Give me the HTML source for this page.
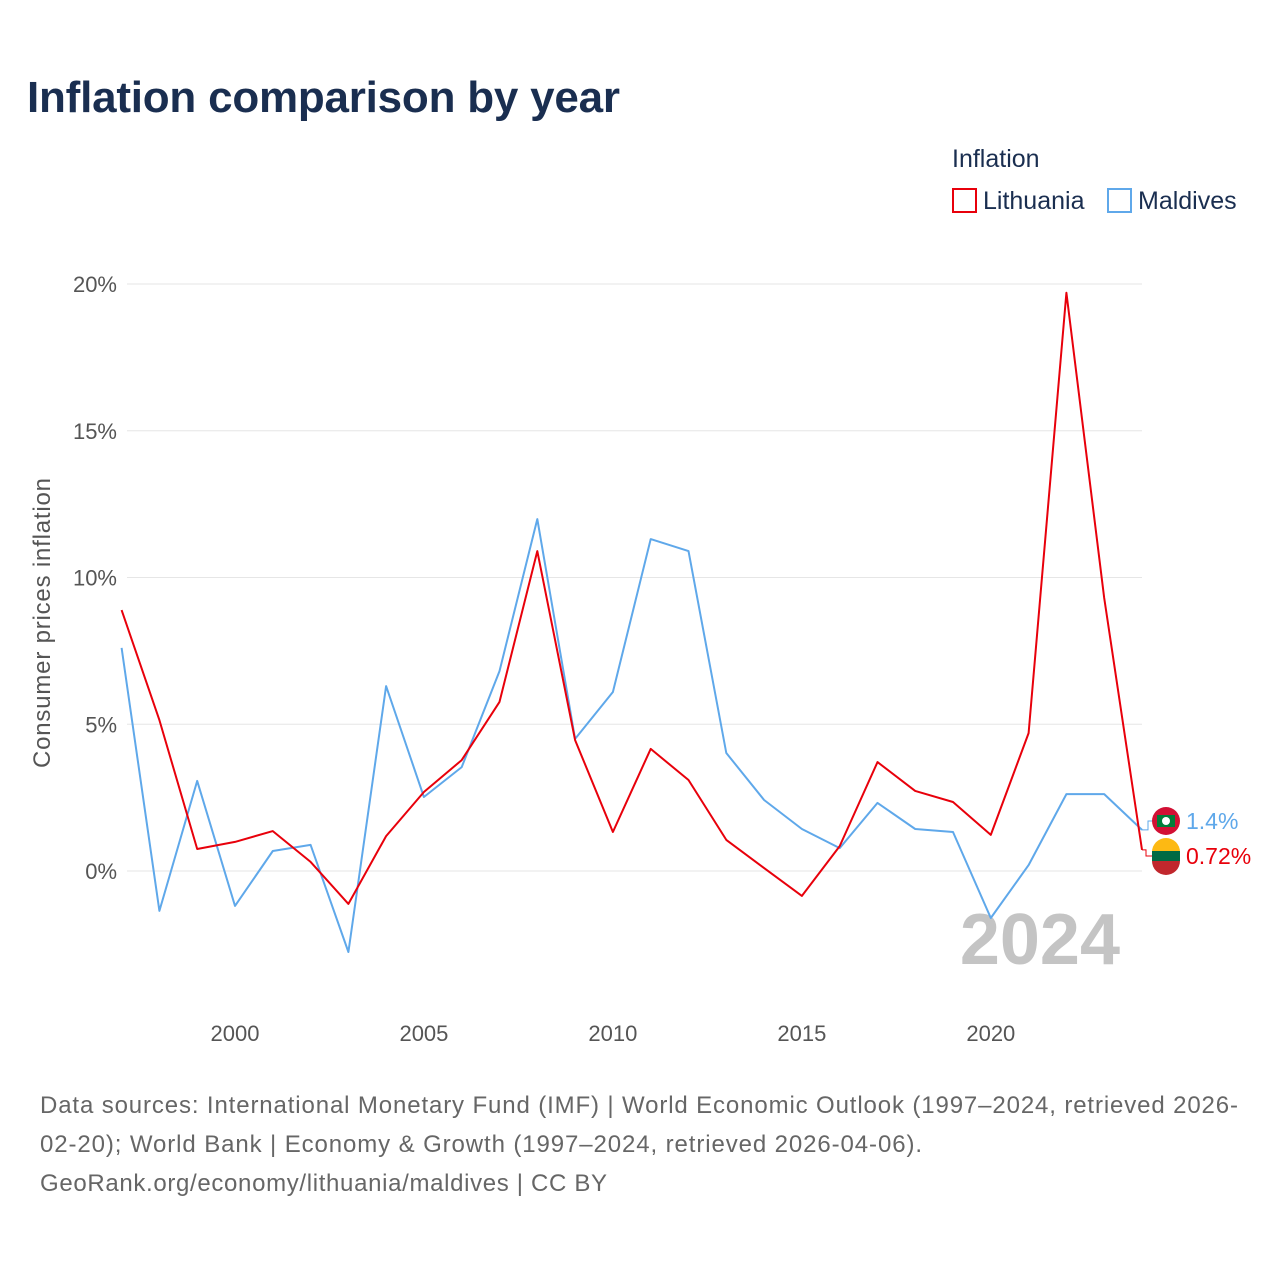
<!DOCTYPE html>
<html><head><meta charset="utf-8">
<style>
body{margin:0;background:#fff;font-family:"Liberation Sans",sans-serif;}
#wrap{position:relative;width:1280px;height:1280px;overflow:hidden;}
</style></head>
<body>
<div id="wrap">
<svg id="chart" width="1280" height="1280">
  <text x="27" y="112" font-size="44" font-weight="bold" fill="#1a2e50" textLength="593">Inflation comparison by year</text>
  <text x="952" y="167" font-size="25" fill="#1a2e50">Inflation</text>
  <g>
    <rect x="953" y="189" width="23" height="23" fill="none" stroke="#e8000b" stroke-width="2"/>
    <text x="983" y="209" font-size="25" fill="#1a2e50">Lithuania</text>
  </g>
  <g>
    <rect x="1108" y="189" width="23" height="23" fill="none" stroke="#5fa8ea" stroke-width="2"/>
    <text x="1138" y="209" font-size="25" fill="#1a2e50">Maldives</text>
  </g>
  <g id="grid"></g>
  <g id="yticks"></g>
  <g id="xticks"></g>
  <text transform="translate(50,623) rotate(-90)" text-anchor="middle" font-size="24" fill="#555" textLength="290">Consumer prices inflation</text>
  <text x="1120" y="964" text-anchor="end" font-size="72" font-weight="bold" fill="#c4c4c4">2024</text>
  <g id="series"></g>
  <text x="40" y="1113" font-size="24" fill="#666" textLength="1198">Data sources: International Monetary Fund (IMF) | World Economic Outlook (1997–2024, retrieved 2026-</text>
  <text x="40" y="1152" font-size="24" fill="#666" textLength="882">02-20); World Bank | Economy &amp; Growth (1997–2024, retrieved 2026-04-06).</text>
  <text x="40" y="1191" font-size="24" fill="#666" textLength="567">GeoRank.org/economy/lithuania/maldives | CC BY</text>
</svg>
</div>
<script>
const years = [1997,1998,1999,2000,2001,2002,2003,2004,2005,2006,2007,2008,2009,2010,2011,2012,2013,2014,2015,2016,2017,2018,2019,2020,2021,2022,2023,2024];
const lithuania = [8.89,5.14,0.75,0.99,1.36,0.31,-1.12,1.19,2.69,3.78,5.76,10.9,4.46,1.33,4.16,3.10,1.06,0.10,-0.85,0.85,3.71,2.73,2.35,1.23,4.70,19.7,9.3,0.72];
const maldives = [7.6,-1.36,3.07,-1.19,0.68,0.89,-2.76,6.30,2.52,3.54,6.81,11.99,4.50,6.10,11.31,10.9,4.02,2.42,1.43,0.78,2.32,1.43,1.33,-1.60,0.20,2.62,2.62,1.4];
const yTicks = [0,5,10,15,20];
const xTicks = [2000,2005,2010,2015,2020];
const NS="http://www.w3.org/2000/svg";
const x = v => 121.6 + (v-1997)*(1142-121.6)/27;
const y = v => 871 - v*(871-284)/20;
function el(t,a,p){const e=document.createElementNS(NS,t);for(const k in a)e.setAttribute(k,a[k]);p.appendChild(e);return e;}
const grid=document.getElementById('grid'),yt=document.getElementById('yticks'),xt=document.getElementById('xticks'),ser=document.getElementById('series');
yTicks.forEach(t=>{
  const l=el('line',{x1:127,x2:1142,y1:y(t),y2:y(t),stroke:'#e6e6e6','stroke-width':1},grid);
  
  
  const tx=el('text',{x:117,y:y(t)+8,'text-anchor':'end','font-size':22,fill:'#555'},yt);
  tx.textContent=t+'%';
  
  
});
xTicks.forEach(t=>{
  const tx=el('text',{x:x(t),y:1041,'text-anchor':'middle','font-size':22,fill:'#555'},xt);
  tx.textContent=t;
  
  
});
function line(vals,color,name){
  const d=vals.map((v,i)=>(i?'L':'M')+x(years[i]).toFixed(1)+','+y(v).toFixed(1)).join('');
  const p=el('path',{d:d,fill:'none',stroke:color,'stroke-width':2,'stroke-linejoin':'round'},ser);
  
  
}
line(maldives,'#5fa8ea','line-maldives');
line(lithuania,'#e8000b','line-lithuania');
const last=years.length-1;
const mv=maldives[last], lv=lithuania[last];
const my=821, ly=856;
el('path',{d:`M${x(2024)},${y(mv)} L1148,${y(mv)} L1148,${my} L1152,${my}`,fill:'none',stroke:'#5fa8ea','stroke-width':1},ser);
el('path',{d:`M${x(2024)},${y(lv)} L1146,${y(lv)} L1146,${ly} L1152,${ly}`,fill:'none',stroke:'#e8000b','stroke-width':1},ser);
const fm=el('g',{},ser);


el('circle',{cx:1166,cy:my,r:14,fill:'#d21034'},fm);
el('rect',{x:1157,y:my-6,width:18,height:12,fill:'#007e3a'},fm);
el('circle',{cx:1166,cy:my,r:4,fill:'#fff'},fm);
const fl=el('g',{},ser);


el('path',{d:`M1152,${ly-4} A14,14 0 0 1 1180,${ly-4} Z`,fill:'#fdb913'},fl);
el('rect',{x:1152,y:ly-5,width:28,height:10,fill:'#006a44'},fl);
el('path',{d:`M1152,${ly+5} A14,14 0 0 0 1180,${ly+5} Z`,fill:'#c1272d'},fl);
const t1=el('text',{x:1186,y:my+8,'font-size':23,fill:'#5fa8ea'},ser);
t1.textContent=mv+'%';


const t2=el('text',{x:1186,y:ly+8,'font-size':23,fill:'#e8000b'},ser);
t2.textContent=lv+'%';


</script>
</body></html>
